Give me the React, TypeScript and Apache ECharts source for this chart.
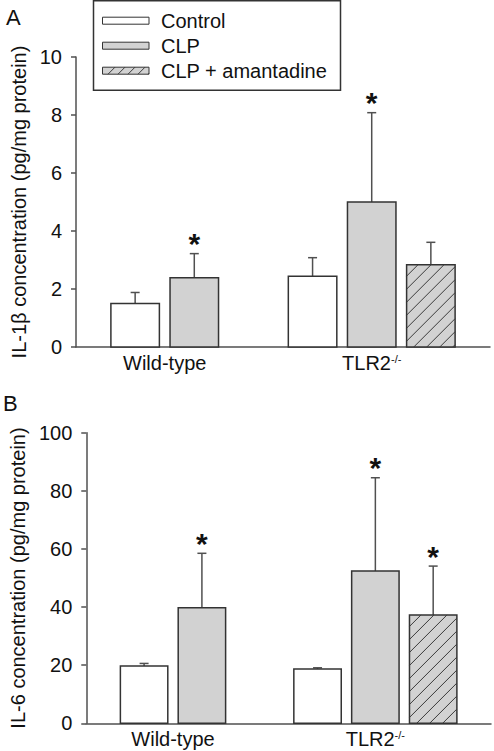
import React, { useEffect, useRef } from "react";
import * as echarts from "echarts";

// ---------- data ----------
const treatments = ["Control", "CLP", "CLP + amantadine"];
const groupLabels = ["Wild-type", "TLR2"];
// slot position on the hidden 0..7 x scale (Wild-type: slots 1,2; TLR2-/-: slots 4,5,6)
const slotControl = [1, 4];
const slotCLP = [2, 5];
const slotAmantadine = [6];
const groupLabelSlot = [1.5, 5];

// Panel A: IL-1beta (pg/mg protein)
const il1bControl = [1.5, 2.44];
const il1bControlSD = [0.38, 0.64];
const il1bCLP = [2.39, 5.0];
const il1bCLPSD = [0.83, 3.08];
const il1bAmantadine = [2.84];
const il1bAmantadineSD = [0.77];
const il1bSigControl = [0, 0];
const il1bSigCLP = [1, 1];
const il1bSigAmantadine = [0];

// Panel B: IL-6 (pg/mg protein)
const il6Control = [19.7, 18.7];
const il6ControlSD = [0.9, 0.4];
const il6CLP = [39.8, 52.4];
const il6CLPSD = [18.7, 32.1];
const il6Amantadine = [37.3];
const il6AmantadineSD = [16.8];
const il6SigControl = [0, 0];
const il6SigCLP = [1, 1];
const il6SigAmantadine = [1];

const yTicksA = [0, 2, 4, 6, 8, 10];
const yTicksB = [0, 20, 40, 60, 80, 100];

// ---------- styles ----------
const FONT = '"Liberation Sans", Arial, Helvetica, sans-serif';
const AXIS_GRAY = "#505050";
const EDGE = "#333333";
const GRAY_FILL = "#d2d2d2";
const BAR_SLOT = 0.82;

function hatchSegments(x0: number, yt: number, x1: number, yb: number, s: number) {
  const segs: number[][] = [];
  const c0 = x0 + yb;
  const kMin = Math.ceil((x0 + yt - c0) / s);
  const kMax = Math.floor((x1 + yb - c0) / s);
  for (let k = kMin; k <= kMax; k++) {
    const c = c0 + k * s + s * 0.55;
    const xa = Math.max(x0, c - yb);
    const xb = Math.min(x1, c - yt);
    if (xb - xa > 0.5) segs.push([xa, c - xa, xb, c - xb]);
  }
  return segs;
}

function makeRenderItem(fill: string, hatched: boolean) {
  return (_params: any, api: any) => {
    const xv = api.value(0);
    const mean = api.value(1);
    const sd = api.value(2);
    const sig = api.value(3);
    const base = api.coord([xv, 0]);
    const top = api.coord([xv, mean]);
    const errTop = api.coord([xv, mean + sd]);
    const w = api.size([BAR_SLOT, 0])[0];
    const cx = top[0];
    const x0 = cx - w / 2;
    const x1 = cx + w / 2;
    const children: any[] = [
      {
        type: "line",
        shape: { x1: cx, y1: top[1], x2: cx, y2: errTop[1] },
        style: { stroke: AXIS_GRAY, lineWidth: 1.5 },
      },
      {
        type: "line",
        shape: { x1: cx - 4.5, y1: errTop[1], x2: cx + 4.5, y2: errTop[1] },
        style: { stroke: AXIS_GRAY, lineWidth: 1.5 },
      },
      {
        type: "rect",
        shape: { x: x0, y: top[1], width: w, height: base[1] - top[1] },
        style: { fill, stroke: EDGE, lineWidth: 1.5 },
      },
    ];
    if (hatched) {
      hatchSegments(x0, top[1], x1, base[1], 13).forEach((sgm) => {
        children.push({
          type: "line",
          shape: { x1: sgm[0], y1: sgm[1], x2: sgm[2], y2: sgm[3] },
          style: { stroke: "#3a3a3a", lineWidth: 1 },
        });
      });
    }
    if (sig) {
      children.push({
        type: "text",
        style: {
          text: "*",
          x: cx,
          y: errTop[1] - 10,
          align: "center",
          verticalAlign: "middle",
          font: `bold 30px ${FONT}`,
          fill: "#111",
        },
      });
    }
    return { type: "group", children };
  };
}

function buildData(slots: number[], means: number[], sds: number[], sigs: number[]) {
  return slots.map((s, i) => [s, means[i], sds[i], sigs[i]]);
}

function xAxisFor(gridIndex: number) {
  return {
    type: "value",
    gridIndex,
    min: 0,
    max: 7,
    interval: 0.5,
    axisLine: { show: true, lineStyle: { color: AXIS_GRAY, width: 1.5 } },
    axisTick: { show: false },
    splitLine: { show: false },
    axisLabel: {
      margin: 6,
      color: "#111",
      fontFamily: FONT,
      fontSize: 20,
      showMinLabel: true,
      showMaxLabel: true,
      formatter: (v: number) => {
        if (Math.abs(v - groupLabelSlot[0]) < 1e-6) return groupLabels[0];
        if (Math.abs(v - groupLabelSlot[1]) < 1e-6) return `{b|${groupLabels[1]}}{s|-/-}`;
        return "";
      },
      rich: {
        b: { fontFamily: FONT, fontSize: 20, color: "#111" },
        s: { fontFamily: FONT, fontSize: 11, color: "#111", verticalAlign: "top", padding: [0, 0, 8, 0] },
      },
    },
  };
}

function yAxisFor(gridIndex: number, ticks: number[], name: string) {
  return {
    type: "value",
    gridIndex,
    min: ticks[0],
    max: ticks[ticks.length - 1],
    interval: ticks[1] - ticks[0],
    name,
    nameLocation: "middle",
    nameGap: 45,
    nameRotate: 90,
    nameTextStyle: { fontFamily: FONT, fontSize: 20, color: "#111" },
    axisLine: { show: true, lineStyle: { color: AXIS_GRAY, width: 1.5 } },
    axisTick: { show: true, inside: false, length: 5, lineStyle: { color: AXIS_GRAY, width: 1.5 } },
    splitLine: { show: false },
    axisLabel: { margin: 14, color: "#111", fontFamily: FONT, fontSize: 20 },
  };
}

function legendGraphics() {
  const g: any[] = [
    {
      type: "rect",
      shape: { x: 93.5, y: 0.75, width: 247, height: 89.5 },
      style: { fill: "#fff", stroke: EDGE, lineWidth: 1.5 },
      z: 10,
    },
  ];
  const fills = ["#ffffff", GRAY_FILL, GRAY_FILL];
  const rowsY = [20.7, 45.7, 70.7];
  treatments.forEach((t, i) => {
    const y = rowsY[i];
    const sx = 102.5;
    const sw = 46.5;
    const sh = 7;
    g.push({
      type: "rect",
      shape: { x: sx, y: y - sh / 2, width: sw, height: sh },
      style: { fill: fills[i], stroke: EDGE, lineWidth: 1 },
      z: 11,
    });
    if (i === 2) {
      hatchSegments(sx, y - sh / 2, sx + sw, y + sh / 2, 10).forEach((sgm) => {
        g.push({
          type: "line",
          shape: { x1: sgm[0], y1: sgm[1], x2: sgm[2], y2: sgm[3] },
          style: { stroke: "#3a3a3a", lineWidth: 1 },
          z: 12,
        });
      });
    }
    g.push({
      type: "text",
      x: 161,
      y,
      style: { text: t, font: `20px ${FONT}`, fill: "#111", verticalAlign: "middle", align: "left" },
      z: 11,
    });
  });
  g.push({ type: "text", x: 6, y: 17, style: { text: "A", font: `22px ${FONT}`, fill: "#111", verticalAlign: "middle" } });
  g.push({ type: "text", x: 3, y: 403, style: { text: "B", font: `22px ${FONT}`, fill: "#111", verticalAlign: "middle" } });
  return g;
}

export default function App() {
  const ref = useRef<HTMLDivElement>(null);
  useEffect(() => {
    if (!ref.current) return;
    const chart = echarts.init(ref.current, null, { renderer: "svg" });
    const fills = ["#ffffff", GRAY_FILL, GRAY_FILL];
    const hatch = [false, false, true];
    const panelA = [
      buildData(slotControl, il1bControl, il1bControlSD, il1bSigControl),
      buildData(slotCLP, il1bCLP, il1bCLPSD, il1bSigCLP),
      buildData(slotAmantadine, il1bAmantadine, il1bAmantadineSD, il1bSigAmantadine),
    ];
    const panelB = [
      buildData(slotControl, il6Control, il6ControlSD, il6SigControl),
      buildData(slotCLP, il6CLP, il6CLPSD, il6SigCLP),
      buildData(slotAmantadine, il6Amantadine, il6AmantadineSD, il6SigAmantadine),
    ];
    const series: any[] = [];
    [panelA, panelB].forEach((panel, p) => {
      panel.forEach((data, i) => {
        series.push({
          type: "custom",
          name: treatments[i],
          xAxisIndex: p,
          yAxisIndex: p,
          encode: { x: 0, y: 1 },
          data,
          clip: false,
          renderItem: makeRenderItem(fills[i], hatch[i]),
        });
      });
    });
    chart.setOption({
      animation: false,
      backgroundColor: "#ffffff",
      textStyle: { fontFamily: FONT },
      grid: [
        { left: 76, top: 57, width: 414, height: 290, containLabel: false },
        { left: 78.3, top: 432.7, width: 414.4, height: 290.6, containLabel: false },
      ],
      xAxis: [xAxisFor(0), xAxisFor(1)],
      yAxis: [
        yAxisFor(0, yTicksA, "IL-1β concentration (pg/mg protein)"),
        yAxisFor(1, yTicksB, "IL-6 concentration (pg/mg protein)"),
      ],
      series,
      graphic: legendGraphics(),
    });
    return () => chart.dispose();
  }, []);
  return (
    <div
      ref={ref}
      style={{ position: "fixed", left: 0, top: 0, width: 494, height: 751, background: "#fff" }}
    />
  );
}
